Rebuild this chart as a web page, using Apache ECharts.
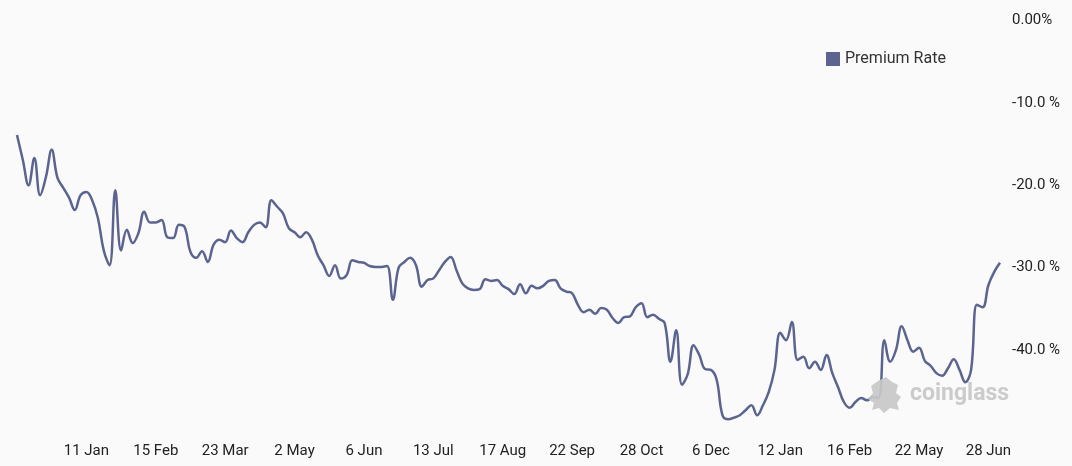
<!DOCTYPE html>
<html>
<head>
<meta charset="utf-8">
<script src="https://cdn.jsdelivr.net/npm/echarts@6/dist/echarts.min.js"></script>
<style>
html,body{margin:0;padding:0;background:#fafafa;}
#chart{width:1072px;height:466px;}
</style>
</head>
<body>
<div id="chart"></div>
<script>
const categories = [
'2021-12-06','2021-12-09','2021-12-12','2021-12-15','2021-12-18','2021-12-21','2021-12-24','2021-12-27','2021-12-30','2022-01-02','2022-01-05','2022-01-08','2022-01-11',
'2022-01-14','2022-01-17','2022-01-20','2022-01-23','2022-01-26','2022-01-29','2022-02-01','2022-02-04','2022-02-07','2022-02-10','2022-02-13','2022-02-15',
'2022-02-18','2022-02-21','2022-02-24','2022-02-27','2022-03-02','2022-03-05','2022-03-08','2022-03-11','2022-03-14','2022-03-17','2022-03-20','2022-03-23',
'2022-03-26','2022-03-30','2022-04-02','2022-04-05','2022-04-09','2022-04-12','2022-04-15','2022-04-19','2022-04-22','2022-04-25','2022-04-29','2022-05-02',
'2022-05-05','2022-05-08','2022-05-11','2022-05-14','2022-05-17','2022-05-20','2022-05-23','2022-05-26','2022-05-29','2022-06-01','2022-06-04','2022-06-06',
'2022-06-09','2022-06-12','2022-06-15','2022-06-18','2022-06-21','2022-06-24','2022-06-27','2022-06-30','2022-07-04','2022-07-07','2022-07-10','2022-07-13',
'2022-07-16','2022-07-19','2022-07-22','2022-07-25','2022-07-28','2022-07-31','2022-08-03','2022-08-06','2022-08-09','2022-08-12','2022-08-15','2022-08-17',
'2022-08-20','2022-08-23','2022-08-26','2022-08-29','2022-09-01','2022-09-04','2022-09-07','2022-09-10','2022-09-13','2022-09-16','2022-09-19','2022-09-22',
'2022-09-25','2022-09-28','2022-10-01','2022-10-04','2022-10-07','2022-10-10','2022-10-13','2022-10-16','2022-10-19','2022-10-22','2022-10-25','2022-10-28',
'2022-10-31','2022-11-03','2022-11-06','2022-11-09','2022-11-12','2022-11-15','2022-11-18','2022-11-22','2022-11-25','2022-11-28','2022-12-02','2022-12-06',
'2022-12-09','2022-12-12','2022-12-15','2022-12-18','2022-12-21','2022-12-24','2022-12-27','2022-12-30','2023-01-03','2023-01-06','2023-01-09','2023-01-12',
'2023-01-15','2023-01-18','2023-01-21','2023-01-24','2023-01-27','2023-01-30','2023-02-02','2023-02-05','2023-02-08','2023-02-11','2023-02-14','2023-02-16',
'2023-02-24','2023-03-04','2023-03-12','2023-03-20','2023-03-28','2023-04-05','2023-04-13','2023-04-21','2023-04-29','2023-05-07','2023-05-15','2023-05-22',
'2023-05-25','2023-05-28','2023-05-31','2023-06-03','2023-06-06','2023-06-09','2023-06-12','2023-06-15','2023-06-18','2023-06-21','2023-06-24','2023-06-28',
'2023-06-29','2023-06-30'
];

const premiumRate = [
-13.9,-16.9,-20.0,-16.7,-21.2,-19.0,-15.7,-19.1,-20.3,-21.5,-23.0,-21.2,-20.8,
-21.8,-24.0,-27.9,-29.7,-20.6,-27.9,-25.4,-27.0,-25.8,-23.2,-24.5,-24.5,
-24.2,-26.3,-26.4,-24.8,-25.1,-28.1,-28.8,-28.0,-29.3,-27.2,-26.6,-26.9,
-25.5,-26.4,-26.9,-25.7,-24.8,-24.5,-25.1,-21.8,-22.6,-23.4,-25.2,-25.7,
-26.3,-25.7,-26.6,-28.5,-29.7,-31.0,-29.7,-31.3,-30.9,-29.1,-29.3,-29.4,
-29.8,-29.9,-29.9,-29.8,-33.9,-30.0,-29.3,-28.8,-29.7,-32.3,-31.5,-31.3,
-30.3,-29.3,-28.7,-30.3,-31.9,-32.5,-32.7,-32.6,-31.4,-31.6,-31.5,-32.2,
-32.6,-33.2,-32.0,-33.1,-32.2,-32.5,-32.2,-31.6,-31.5,-32.5,-32.9,-33.1,
-34.5,-35.4,-35.1,-35.6,-34.9,-35.1,-36.1,-36.7,-36.0,-35.9,-34.8,-34.3,
-36.0,-35.7,-36.2,-36.7,-41.4,-37.6,-44.2,-42.9,-39.4,-40.6,-42.3,-42.4,
-43.6,-47.9,-48.4,-48.2,-47.9,-47.3,-46.7,-47.9,-46.7,-45.1,-42.4,-37.9,
-38.8,-36.6,-41.2,-40.8,-42.2,-41.4,-42.4,-40.6,-42.8,-44.5,-46.3,-47.0,
-46.3,-45.8,-46.1,-45.7,-45.8,-38.8,-41.4,-40.0,-37.1,-38.8,-40.2,-39.7,
-41.3,-41.9,-42.8,-43.1,-42.2,-41.1,-42.4,-43.9,-42.4,-34.5,-34.8,-32.1,
-30.5,-29.4
];

const tickDates = ['2022-01-11','2022-02-15','2022-03-23','2022-05-02','2022-06-06','2022-07-13','2022-08-17','2022-09-22','2022-10-28','2022-12-06','2023-01-12','2023-02-16','2023-05-22','2023-06-28'];
const yTicks = [0, -10, -20, -30, -40];

const monthNames = ['Jan','Feb','Mar','Apr','May','Jun','Jul','Aug','Sep','Oct','Nov','Dec'];
const tickSet = new Set(tickDates);

const chart = echarts.init(document.getElementById('chart'), null, {renderer: 'canvas'});
const FONT = 'Roboto, "Noto Sans", sans-serif';

chart.setOption({
  backgroundColor: '#fafafa',
  animation: false,
  textStyle: {fontFamily: FONT},
  grid: {left: 17, right: 72, top: 20.5, bottom: 33.5},
  legend: {
    data: ['Premium Rate'],
    left: 821, top: 46,
    icon: 'rect', itemWidth: 14, itemHeight: 14, itemGap: 10,
    textStyle: {color: '#333', fontSize: 16, fontFamily: FONT}
  },
  xAxis: {
    type: 'category',
    data: categories,
    boundaryGap: false,
    axisLine: {show: false},
    axisTick: {show: false},
    splitLine: {show: false},
    axisLabel: {
      color: '#222', fontSize: 15, fontFamily: FONT, margin: 11,
      interval: function (idx, val) { return tickSet.has(val); },
      formatter: function (val) {
        const p = val.split('-');
        return parseInt(p[2], 10) + ' ' + monthNames[parseInt(p[1], 10) - 1];
      }
    }
  },
  yAxis: {
    type: 'value',
    position: 'right',
    min: -50, max: 0, interval: 10,
    axisLine: {show: false},
    axisTick: {show: false},
    splitLine: {show: false},
    axisLabel: {
      color: '#222', fontSize: 15, fontFamily: FONT, margin: 12,
      formatter: function (v) {
        if (yTicks.indexOf(v) < 0) return '';
        return v === 0 ? '0.00%' : v.toFixed(1) + ' %';
      }
    }
  },
  series: [{
    name: 'Premium Rate',
    type: 'line',
    data: premiumRate,
    smooth: 0.4,
    showSymbol: false,
    symbol: 'none',
    color: '#5b648f',
    lineStyle: {width: 2.5, color: '#5b648f'}
  }],
  graphic: [
    {
      type: 'polygon', x: 868, y: 377, z: 100,
      shape: {points: [[10,4],[18,0],[24,5],[30,8],[28,16],[33,20],[29,26],[31,33],[22,31],[16,36],[11,31],[4,33],[6,26],[0,22],[5,16],[3,9]]},
      style: {fill: 'rgba(200,200,200,0.92)'}
    },
    {
      type: 'text', x: 910, y: 383, z: 100,
      style: {text: 'coinglass', fill: 'rgba(200,200,200,0.95)', font: 'bold 23px ' + FONT}
    }
  ]
});
</script>
</body>
</html>
